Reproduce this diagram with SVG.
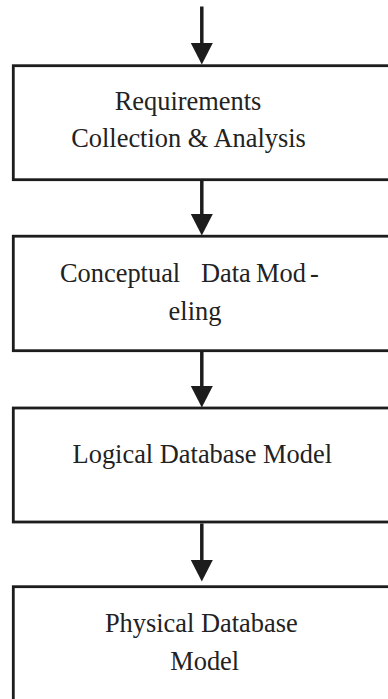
<svg xmlns="http://www.w3.org/2000/svg" width="388" height="699" viewBox="0 0 388 699">
  <style>
    .box { fill: #ffffff; stroke: #1c1c1c; stroke-width: 2.8; }
    .flow { stroke: #1c1c1c; stroke-width: 3.5; fill: none; marker-end: url(#head); }
    .label { font-family: "Liberation Serif", "Times New Roman", serif; font-size: 26.4px; fill: #222222; }
    .mid { text-anchor: middle; }
  </style>
  <defs>
    <marker id="head" markerUnits="userSpaceOnUse" markerWidth="24" markerHeight="24" viewBox="0 -12 22 24" refX="0" refY="0" orient="auto">
      <path d="M0,-11 L21.5,0 L0,11 Z" fill="#1c1c1c"/>
    </marker>
  </defs>
  <rect width="388" height="699" fill="#ffffff"/>

  <g id="connectors">
    <line class="flow" x1="201.8" y1="6.5" x2="201.8" y2="43"/>
    <line class="flow" x1="201.8" y1="181" x2="201.8" y2="214"/>
    <line class="flow" x1="201.8" y1="352" x2="201.8" y2="386"/>
    <line class="flow" x1="201.8" y1="523.5" x2="201.8" y2="560"/>
  </g>

  <g id="requirements">
    <rect class="box" x="13.3" y="65.7" width="400" height="114"/>
    <text class="label mid" x="188" y="110">Requirements</text>
    <text class="label mid" x="188.5" y="146.7">Collection &amp; Analysis</text>
  </g>

  <g id="conceptual">
    <rect class="box" x="13.3" y="236.2" width="400" height="114.5"/>
    <text class="label" y="281.7"><tspan x="60">Conceptual</tspan><tspan x="201">Data</tspan><tspan x="256">Mod</tspan><tspan x="310">-</tspan></text>
    <text class="label mid" x="195" y="319.8">eling</text>
  </g>

  <g id="logical">
    <rect class="box" x="13.3" y="408" width="400" height="114"/>
    <text class="label mid" x="202.3" y="462.7">Logical Database Model</text>
  </g>

  <g id="physical">
    <rect class="box" x="13.3" y="586.7" width="400" height="140"/>
    <text class="label mid" x="201.3" y="631.7">Physical Database</text>
    <text class="label mid" x="204.7" y="670">Model</text>
  </g>
</svg>
